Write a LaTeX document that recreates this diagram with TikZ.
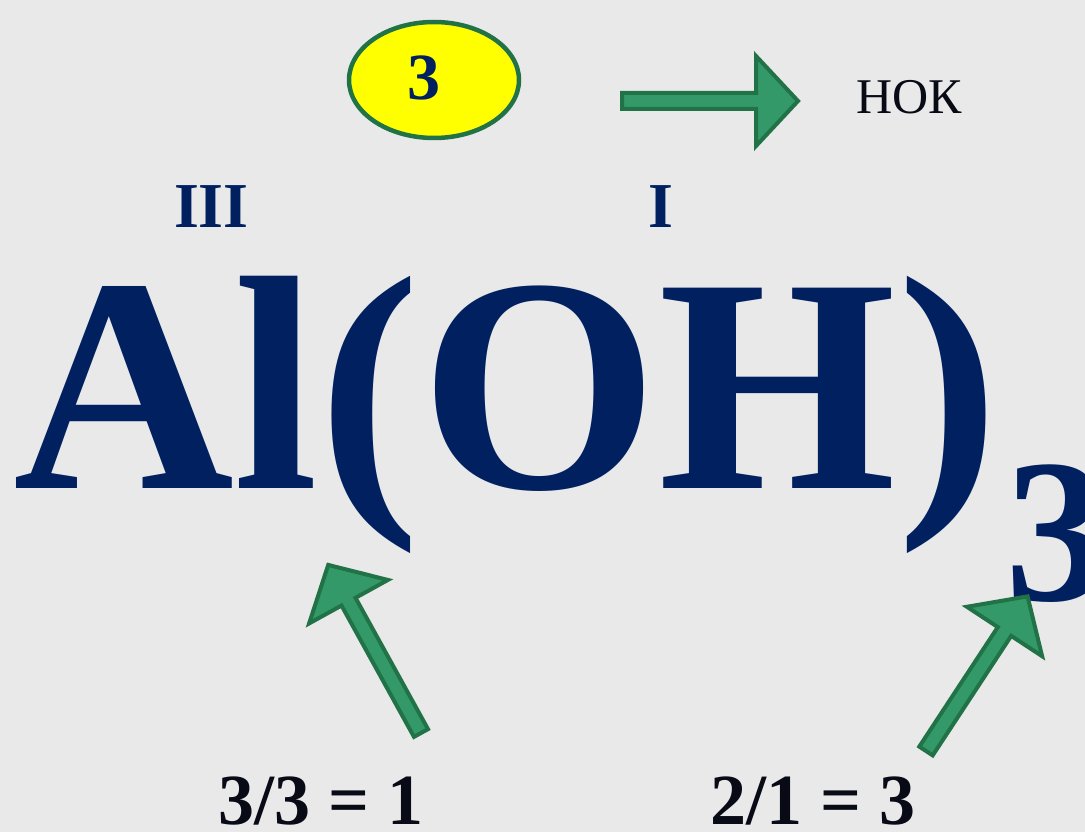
\documentclass[tikz,border=0pt]{standalone}
\usepackage{fontspec}
\setmainfont{Liberation Serif}
\definecolor{bg}{RGB}{233,233,233}
\definecolor{navy}{RGB}{0,32,96}
\definecolor{arrfill}{RGB}{52,153,104}
\definecolor{arrline}{RGB}{33,115,71}
\definecolor{ink}{RGB}{8,10,22}
\definecolor{ovalfill}{RGB}{255,255,0}
\newcommand\blockarrow[3]{%
  \begin{scope}[shift={(#1)},rotate=#2]
    \draw[arrowbody] (0,-8) -- ({#3-42},-8) -- ({#3-42},-45) -- (#3,0)
      -- ({#3-42},45) -- ({#3-42},8) -- (0,8) -- cycle;
  \end{scope}}
\tikzset{
  arrowbody/.style={fill=arrfill, draw=arrline, line width=4pt, line join=miter},
  txt/.style={inner sep=0pt, outer sep=0pt},
}
\begin{document}
\begin{tikzpicture}[x=1pt,y=-1pt]
\useasboundingbox (0,0) rectangle (1085,832);
\fill[bg] (0,0) rectangle (1085,832);
\clip (0,0) rectangle (1085,832);
% ellipse with 3
\draw[fill=ovalfill, draw=arrline, line width=4.5pt] (434,80) ellipse [x radius=85, y radius=58];
\node[txt, anchor=base, text=navy, font=\fontsize{66}{66}\selectfont\bfseries] (lcm) at (424,100) {3};
% right arrow and label
\coordinate (t1) at (622,101);
\blockarrow{t1}{0}{176}
\node[txt, anchor=base west, text=ink, font=\fontsize{50}{50}\selectfont] (nok) at (856,114) {НОК};
% valences
\node[txt, anchor=base west, text=navy, font=\fontsize{64}{64}\selectfont\bfseries] (v3) at (174,227) {III};
\node[txt, anchor=base, text=navy, font=\fontsize{64}{64}\selectfont\bfseries] (v1) at (661,227) {I};
% formula
\node[txt, anchor=base west, text=navy, font=\fontsize{306}{306}\selectfont\bfseries] (formula) at (13,488) {Al(OH)};
\node[txt, anchor=base west, text=navy, font=\fontsize{205}{205}\selectfont\bfseries] (sub) at (1005,600) {3};
% diagonal arrows
\coordinate (t2) at (421,733);
\blockarrow{t2}{118.9}{192}
\coordinate (t3) at (926,751);
\blockarrow{t3}{56.7}{185}
% bottom equations
\node[txt, anchor=base west, text=ink, font=\fontsize{72}{72}\selectfont\bfseries] (eq1) at (218,824) {3/3 = 1};
\node[txt, anchor=base west, text=ink, font=\fontsize{72}{72}\selectfont\bfseries] (eq2) at (710,824) {2/1 = 3};
\end{tikzpicture}
\end{document}
